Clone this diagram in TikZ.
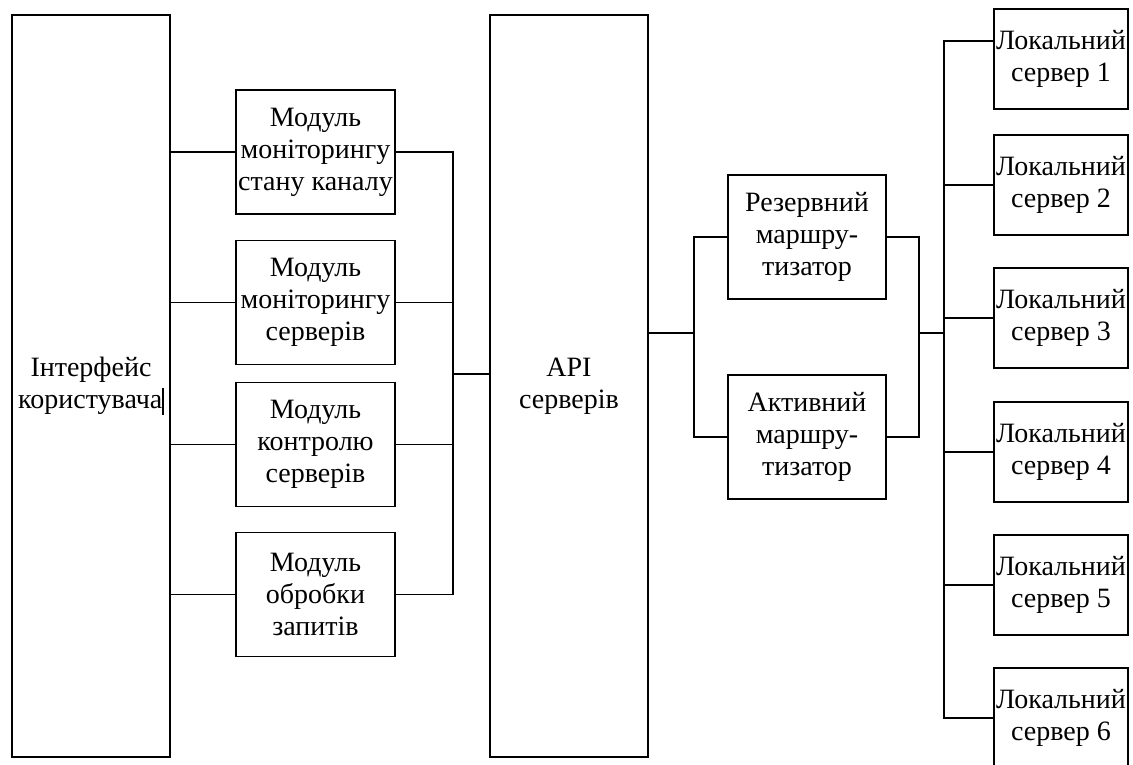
\documentclass[tikz,border=0pt]{standalone}
\usepackage{fontspec}
\setmainfont{Liberation Serif}
\begin{document}
\begin{tikzpicture}[x=1pt,y=-1pt,
  blk/.style={draw, line width=1.1pt, inner sep=0pt, align=center, font=\fontsize{28}{32}\selectfont},
  tall/.style={blk, minimum width=158pt, minimum height=742pt},
  modbox/.style={blk, minimum width=159pt, minimum height=124pt},
  locbox/.style={blk, minimum width=134pt, minimum height=100pt},
  conn/.style={line width=1.1pt}]
\useasboundingbox (0,0) rectangle (1133,765);
% main columns
\node[tall] (ui) at (91,386) {Інтерфейс\\користувача\rule[-6pt]{1.5pt}{27pt}};
\node[tall] (api) at (569,386) {API\\серверів};
% modules
\node[modbox] (m1) at (315.5,152) {Модуль\\моніторингу\\стану каналу};
\node[modbox] (m2) at (315.5,302.5) {Модуль\\моніторингу\\серверів};
\node[modbox] (m3) at (315.5,444.5) {Модуль\\контролю\\серверів};
\node[modbox] (m4) at (315.5,594.5) {Модуль\\обробки\\запитів};
% routers
\node[modbox, minimum width=158pt] (r1) at (807,237) {Резервний\\маршру-\\тизатор};
\node[modbox, minimum width=158pt] (r2) at (807,437) {Активний\\маршру-\\тизатор};
% local servers
\node[locbox] (l1) at (1061,59) {Локальний\\сервер 1};
\node[locbox] (l2) at (1061,185) {Локальний\\сервер 2};
\node[locbox] (l3) at (1061,318) {Локальний\\сервер 3};
\node[locbox] (l4) at (1061,452) {Локальний\\сервер 4};
\node[locbox] (l5) at (1061,585) {Локальний\\сервер 5};
\node[locbox] (l6) at (1061,718) {Локальний\\сервер 6};
% junction coordinates
\coordinate (b1) at (453,374);
\coordinate (j1) at (694,333);
\coordinate (j2) at (919,333);
\coordinate (b2) at (944,333);
% UI to modules
\foreach \i in {1,...,4} {\draw[conn] (ui.east |- m\i.west) -- (m\i.west);}
% modules to bus
\draw[conn] (m1.east) -- (m1.east -| b1) -- (m4.east -| b1) -- (m4.east);
\draw[conn] (m2.east) -- (m2.east -| b1);
\draw[conn] (m3.east) -- (m3.east -| b1);
\draw[conn] (b1) -- (b1 -| api.west);
% API to routers
\draw[conn] (api.east |- j1) -- (j1);
\draw[conn] (r1.west) -| (j1) |- (r2.west);
\draw[conn] (r1.east) -| (j2) |- (r2.east);
\draw[conn] (j2) -- (b2);
% bus to local servers
\draw[conn] ([yshift=18pt]l1.west) -| (l6.west -| b2) -- (l6.west);
\foreach \i in {2,...,5} {\draw[conn] (l\i.west) -- (l\i.west -| b2);}
\end{tikzpicture}
\end{document}
